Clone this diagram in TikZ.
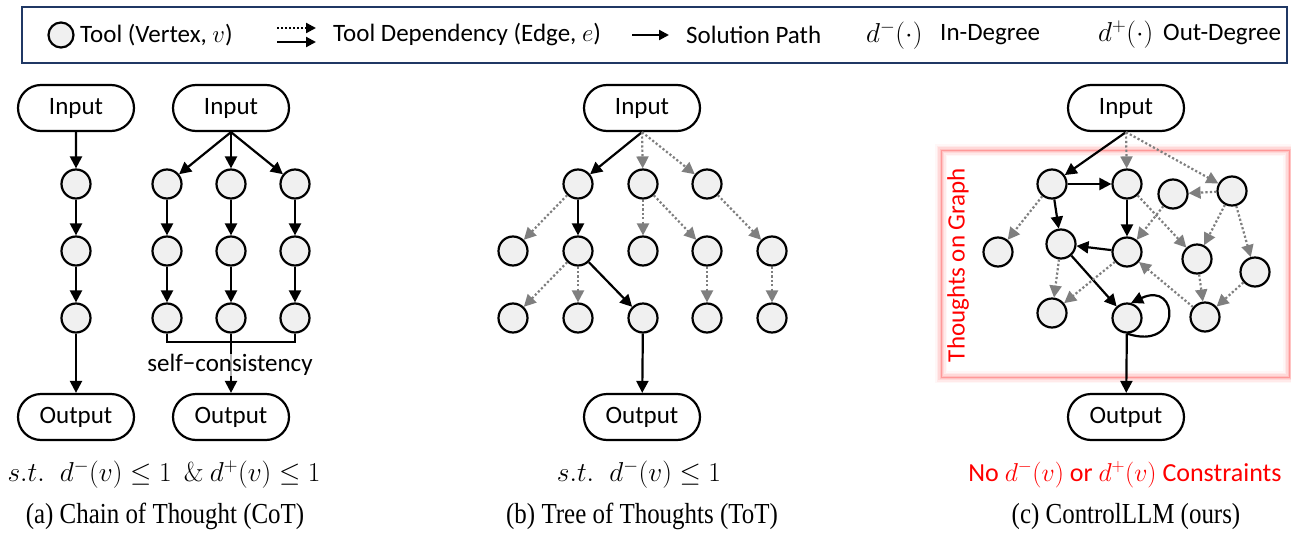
\documentclass[tikz,border=0pt]{standalone}
\usepackage[no-math]{fontspec}
\setmainfont{Carlito}
\newfontfamily\capfont[FakeStretch=0.86]{Liberation Serif}
\usetikzlibrary{arrows.meta,shapes.misc}
\definecolor{toolgray}{HTML}{F0F0F0}
\definecolor{arrowgray}{HTML}{7F7F7F}
\definecolor{legendblue}{HTML}{203864}
\definecolor{glowred}{HTML}{FF0000}
\begin{document}
\begin{tikzpicture}[x=1pt,y=-1pt,
  tool/.style={circle, draw=black, line width=2.2pt, fill=toolgray, minimum size=29pt, inner sep=0pt},
  io/.style={rounded rectangle, draw=black, line width=2.2pt, minimum width=116pt, minimum height=46pt, inner sep=0pt, font=\fontsize{25}{29}\selectfont},
  sol/.style={line width=2.2pt, draw=black, -{Triangle[length=12pt,width=12pt]}},
  dep/.style={line width=2.2pt, draw=arrowgray, dash pattern=on 2.2pt off 2.2pt, -{Triangle[length=12pt,width=12pt]}},
  legsol/.style={line width=2.2pt, draw=black, -{Triangle[length=10pt,width=10pt]}},
  legdot/.style={line width=2.2pt, draw=black, dash pattern=on 2pt off 2pt, -{Triangle[length=10pt,width=10pt]}},
  plain/.style={line width=2.2pt, draw=black},
  lbl/.style={inner sep=0pt, anchor=west, font=\fontsize{25}{29}\selectfont},
  txt/.style={inner sep=0pt, font=\fontsize{25}{29}\selectfont},
  mtxt/.style={inner sep=0pt, anchor=base, font=\fontsize{25}{29}\selectfont},
  captxt/.style={inner sep=0pt, anchor=base, font=\capfont\fontsize{29}{32}\selectfont},
]
\useasboundingbox (0,0) rectangle (1291,533);

% ---------------- legend ----------------
\draw[legendblue, line width=2pt] (22,7) rectangle (1287,63);
\node[tool, minimum size=25pt] (lgc) at (61,35) {};
\node[lbl] (lgt1) at (80,35) {Tool (Vertex, $v$)};
\coordinate (ld1) at (277,28); \coordinate (ld2) at (316,28);
\draw[legdot] (ld1) -- (ld2);
\coordinate (ls1) at (277,42); \coordinate (ls2) at (316,42);
\draw[legsol] (ls1) -- (ls2);
\node[lbl] (lgt2) at (333,35) {Tool Dependency (Edge, $e$)};
\coordinate (lp1) at (632,35); \coordinate (lp2) at (669,35);
\draw[legsol] (lp1) -- (lp2);
\node[lbl] (lgt3) at (686,35) {Solution Path};
\node[lbl] (lgt4) at (866,35) {\scalebox{1.1}{$d^-(\cdot)$}};
\node[lbl] (lgt5) at (940,35) {In-Degree};
\node[lbl] (lgt6) at (1098,35) {\scalebox{1.1}{$d^+(\cdot)$}};
\node[lbl] (lgt7) at (1163,35) {Out-Degree};

% ---------------- (a) CoT ----------------
\node[io] (a1in) at (76,108) {Input};
\node[tool] (a1c1) at (76,184) {};
\node[tool] (a1c2) at (76,251) {};
\node[tool] (a1c3) at (76,318) {};
\node[io] (a1out) at (76,417) {Output};
\draw[sol] (a1in) -- (a1c1);
\draw[sol] (a1c1) -- (a1c2);
\draw[sol] (a1c2) -- (a1c3);
\draw[sol] (a1c3) -- (a1out);

\node[io] (a2in) at (231,108) {Input};
\foreach \c/\x in {1/167,2/231,3/295}{
  \node[tool] (a2r1\c) at (\x,184) {};
  \node[tool] (a2r2\c) at (\x,251) {};
  \node[tool] (a2r3\c) at (\x,318) {};
  \draw[sol] (a2in.south) -- (a2r1\c);
  \draw[sol] (a2r1\c) -- (a2r2\c);
  \draw[sol] (a2r2\c) -- (a2r3\c);
}
\node[io] (a2out) at (231,417) {Output};
\coordinate (brL) at (167,342); \coordinate (brM) at (231,342); \coordinate (brR) at (295,342);
\draw[plain] (a2r31.south) -- (brL) -- (brR) -- (a2r33.south);
\draw[plain] (a2r32.south) -- (brM);
\draw[sol] (brM) -- (a2out);
\node[txt, fill=white, fill opacity=0.7, text opacity=1] (sc) at (230,365) {self−consistency};

\node[mtxt] (amath) at (164,481) {\scalebox{1.1}{$s.t.\;\; d^-(v)\le 1\ \ \&\ d^+(v)\le 1$}};
\node[captxt] (acap) at (165,523) {(a) Chain of Thought (CoT)};

% ---------------- (b) ToT ----------------
\node[io] (bin) at (642,108) {Input};
\node[tool] (b11) at (578,184) {};
\node[tool] (b12) at (643,184) {};
\node[tool] (b13) at (707,184) {};
\foreach \c/\x in {1/513,2/578,3/643,4/707,5/772}{
  \node[tool] (b2\c) at (\x,251) {};
  \node[tool] (b3\c) at (\x,318) {};
}
\node[io] (bout) at (642,417) {Output};
\draw[sol] (bin.south) -- (b11);
\draw[dep] (bin.south) -- (b12);
\draw[dep] (bin.south) -- (b13);
\draw[dep] (b11) -- (b21);
\draw[sol] (b11) -- (b22);
\draw[dep] (b12) -- (b23);
\draw[dep] (b12) -- (b24);
\draw[dep] (b13) -- (b25);
\draw[dep] (b22) -- (b31);
\draw[dep] (b22) -- (b32);
\draw[sol] (b22) -- (b33);
\draw[dep] (b24) -- (b34);
\draw[dep] (b25) -- (b35);
\draw[sol] (b33) -- (bout);

\node[mtxt] (bmath) at (639,481) {\scalebox{1.1}{$s.t.\;\; d^-(v)\le 1$}};
\node[captxt] (bcap) at (642,523) {(b) Tree of Thoughts (ToT)};

% ---------------- (c) ControlLLM ----------------
\fill[white] (941,150) rectangle (1289,377);
\foreach \w/\o in {12/0.03,9/0.05,6/0.07,3/0.10}{
  \draw[glowred, opacity=\o, line width=\w pt] (941,150) rectangle (1289,377);
}
\draw[glowred!40, line width=1pt] (941,150) rectangle (1289,377);
\node[txt, text=glowred, rotate=90] (tog) at (958,265) {Thoughts on Graph};

\node[io] (cin) at (1126,108) {Input};
\node[tool] (n1) at (1052,184) {};
\node[tool] (n2) at (1127,184) {};
\node[tool] (n3) at (1173,194) {};
\node[tool] (n4) at (1232,191) {};
\node[tool] (n5) at (998,252) {};
\node[tool] (n6) at (1061,244) {};
\node[tool] (n7) at (1127,252) {};
\node[tool] (n8) at (1197,259) {};
\node[tool] (n9) at (1255,272) {};
\node[tool] (n10) at (1052,313) {};
\node[tool] (n11) at (1127,318) {};
\node[tool] (n12) at (1205,317) {};
\node[io] (cout) at (1126,417) {Output};

\draw[sol] (cin.south) -- (n1);
\draw[dep] (cin.south) -- (n2);
\draw[dep] (cin.south) -- (n4);
\draw[sol] (n1) -- (n2);
\draw[sol] (n1) -- (n6);
\draw[dep] (n1) -- (n5);
\draw[sol] (n2) -- (n7);
\draw[dep] (n2) -- (n8);
\draw[dep] (n3) -- (n7);
\draw[dep] (n4) -- (n3);
\draw[dep] (n4) -- (n8);
\draw[dep] (n4) -- (n9);
\draw[sol] (n7) -- (n6);
\draw[dep] (n6) -- (n10);
\draw[sol] (n6) -- (n11);
\draw[dep] (n7) -- (n10);
\draw[dep] (n12) -- (n7);
\draw[dep] (n8) -- (n12);
\draw[dep] (n9) -- (n12);
\draw[sol] (n11.south) .. controls (1182,352) and (1180,280) .. (n11.75);
\draw[sol] (n11) -- (cout);

\node[mtxt, text=glowred] (cmath) at (1125,481) {\scalebox{1.04}{No $d^-(v)$ or $d^+(v)$ Constraints}};
\node[captxt] (ccap) at (1126,523) {(c) ControlLLM (ours)};
\end{tikzpicture}
\end{document}
